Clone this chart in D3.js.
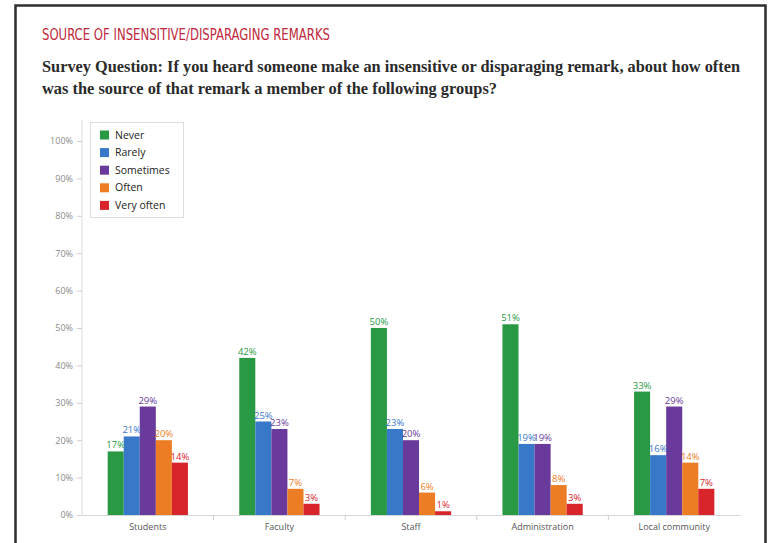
<!DOCTYPE html>
<html>
<head>
<meta charset="utf-8">
<script src="https://cdn.jsdelivr.net/npm/d3@7/dist/d3.min.js"></script>
<style>
  html, body { margin: 0; padding: 0; background: #fff; }
  svg { display: block; }
</style>
</head>
<body>
<svg id="chart" width="779" height="543"></svg>
<script>
// Survey groups and response frequencies (percent of respondents)
const groups = ["Students", "Faculty", "Staff", "Administration", "Local community"];
const responses = ["Never", "Rarely", "Sometimes", "Often", "Very often"];
const never     = [17, 42, 50, 51, 33];
const rarely    = [21, 25, 23, 19, 16];
const sometimes = [29, 23, 20, 19, 29];
const often     = [20, 7, 6, 8, 14];
const veryOften = [14, 3, 1, 3, 7];
const yTicks = [0, 10, 20, 30, 40, 50, 60, 70, 80, 90, 100];

const seriesValues = [never, rarely, sometimes, often, veryOften];
const colors = ["#2a9944", "#3778c9", "#693a9b", "#ec7d24", "#d7252b"];

const svg = d3.select("#chart");

// Outer frame: open at the bottom, running off the page
svg.append("path")
  .attr("d", "M15.5,543 V5.5 H765.5 V543")
  .attr("fill", "none")
  .attr("stroke", "#2e2e2e").attr("stroke-width", 2.5);

// Heading
svg.append("text")
  .attr("x", 42).attr("y", 39.5)
  .attr("font-family", "'Liberation Sans Narrow', 'DejaVu Sans Condensed', 'Roboto', sans-serif")
  .attr("font-size", 16.5)
  .attr("fill", "#c0273d")
  .attr("textLength", 288).attr("lengthAdjust", "spacingAndGlyphs")
  .text("SOURCE OF INSENSITIVE/DISPARAGING REMARKS");

const question = [
  "Survey Question: If you heard someone make an insensitive or disparaging remark, about how often",
  "was the source of that remark a member of the following groups?"
];
const qWidths = [698, 455];
question.forEach((line, i) => {
  svg.append("text")
    .attr("x", 42).attr("y", 71.5 + i * 22)
    .attr("font-family", "'Liberation Serif', 'DejaVu Serif', serif")
    .attr("font-size", 16)
    .attr("font-weight", "bold")
    .attr("fill", "#2a2a2a")
    .attr("textLength", qWidths[i]).attr("lengthAdjust", "spacingAndGlyphs")
    .text(line);
});

// Plot geometry
const plotLeft = 82, plotRight = 740, plotTop = 141, plotBottom = 515;
const chartFont = "'Open Sans', 'DejaVu Sans', sans-serif";

const x0 = d3.scaleBand().domain(groups).range([plotLeft, plotRight]).paddingInner(0).paddingOuter(0);
const innerWidth = x0.bandwidth() * 0.61;
const x1 = d3.scaleBand().domain(responses)
  .range([(x0.bandwidth() - innerWidth) / 2, (x0.bandwidth() + innerWidth) / 2])
  .padding(0);
const y = d3.scaleLinear().domain([0, 100]).range([plotBottom, plotTop]);

// Y axis
svg.append("line")
  .attr("x1", plotLeft).attr("x2", plotLeft)
  .attr("y1", 120).attr("y2", plotBottom)
  .attr("stroke", "#dcdcdc").attr("stroke-width", 1);

const yAxis = svg.append("g")
  .attr("transform", `translate(${plotLeft},0)`)
  .call(d3.axisLeft(y).tickValues(yTicks).tickFormat(d => d + "%").tickSize(5).tickPadding(4));
yAxis.select(".domain").remove();
yAxis.selectAll(".tick line").attr("stroke", "#cfcfcf");
yAxis.selectAll(".tick text")
  .attr("fill", "#8a8a8a")
  .attr("font-family", chartFont)
  .attr("font-size", 9);

// X axis
const xAxis = svg.append("g")
  .attr("transform", `translate(0,${plotBottom})`)
  .call(d3.axisBottom(x0).tickSize(0).tickPadding(9));
xAxis.select(".domain").attr("stroke", "#d6d6d6");
xAxis.selectAll(".tick text")
  .attr("fill", "#555")
  .attr("font-family", chartFont)
  .attr("font-size", 9);

// Group separators on the x axis
svg.append("g").selectAll("line")
  .data(groups.slice(1))
  .join("line")
  .attr("x1", d => x0(d)).attr("x2", d => x0(d))
  .attr("y1", plotBottom).attr("y2", plotBottom + 5)
  .attr("stroke", "#cfcfcf");

// Bars and value labels
const cells = [];
groups.forEach((g, gi) => {
  responses.forEach((r, ri) => {
    cells.push({ group: g, response: r, value: seriesValues[ri][gi], color: colors[ri] });
  });
});

const barLayer = svg.append("g");
barLayer.selectAll("rect")
  .data(cells)
  .join("rect")
  .attr("x", d => x0(d.group) + x1(d.response))
  .attr("y", d => y(d.value))
  .attr("width", x1.bandwidth())
  .attr("height", d => y(0) - y(d.value))
  .attr("fill", d => d.color);

barLayer.selectAll("text")
  .data(cells)
  .join("text")
  .attr("x", d => x0(d.group) + x1(d.response) + x1.bandwidth() / 2)
  .attr("y", d => y(d.value) - 3)
  .attr("text-anchor", "middle")
  .attr("font-family", chartFont)
  .attr("font-size", 9.5)
  .attr("fill", d => d.color)
  .text(d => d.value + "%");

// Legend
const legend = svg.append("g");
legend.append("rect")
  .attr("x", 90.5).attr("y", 122.5)
  .attr("width", 93).attr("height", 95)
  .attr("fill", "#fff")
  .attr("stroke", "#dddddd");

const items = legend.selectAll("g.item")
  .data(responses)
  .join("g")
  .attr("class", "item")
  .attr("transform", (d, i) => `translate(100,${135 + i * 17.6})`);
items.append("rect")
  .attr("x", 0).attr("y", -4.5)
  .attr("width", 9).attr("height", 9)
  .attr("fill", (d, i) => colors[i]);
items.append("text")
  .attr("x", 15).attr("y", 0)
  .attr("dy", "0.35em")
  .attr("font-family", chartFont)
  .attr("font-size", 10.5)
  .attr("fill", "#222")
  .text(d => d);
</script>
</body>
</html>
